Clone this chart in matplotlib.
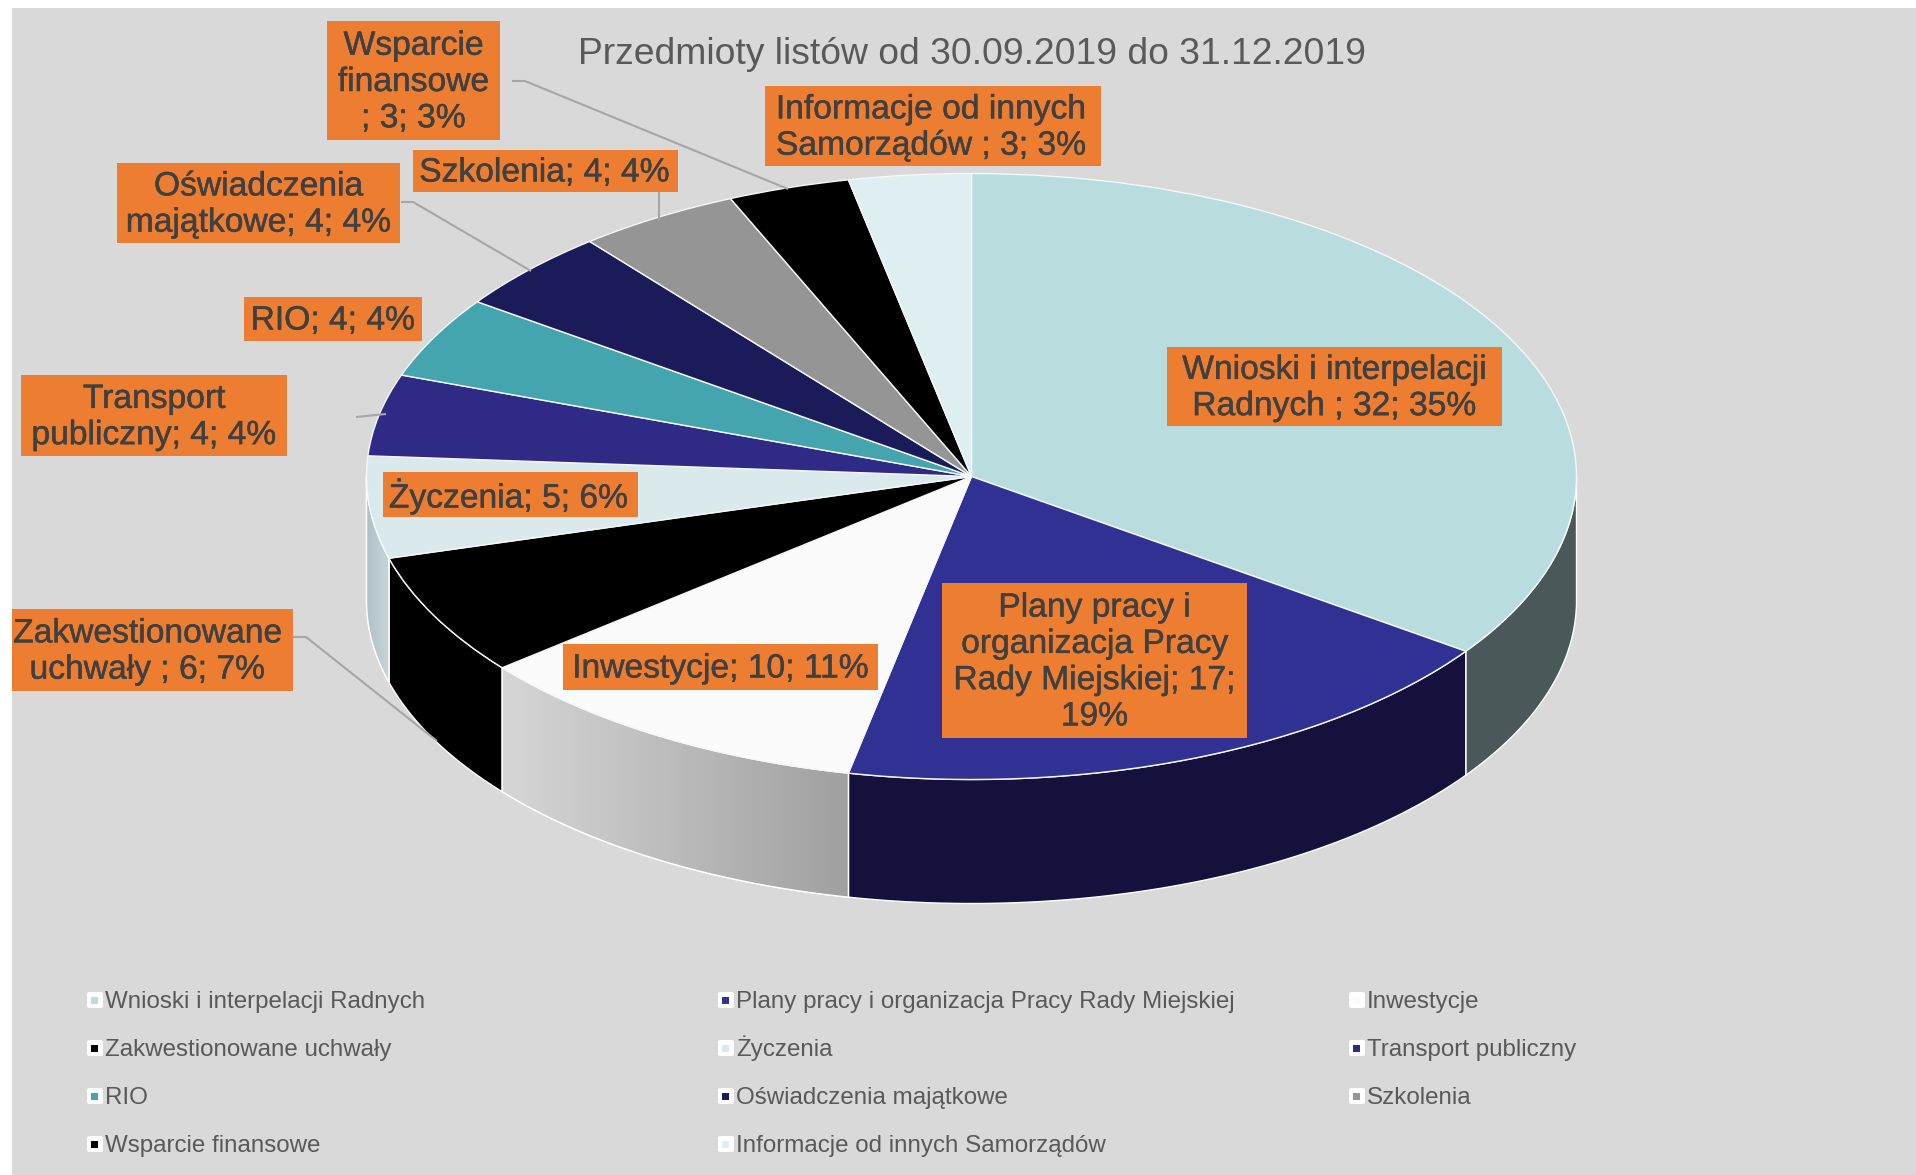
import numpy as np
import matplotlib
matplotlib.use("Agg")
import matplotlib.pyplot as plt
import matplotlib.patheffects as pe
from matplotlib.patches import Rectangle, FancyBboxPatch, Polygon
from matplotlib.transforms import Affine2D
from matplotlib.colors import LinearSegmentedColormap

plt.rcParams['font.family'] = ['Liberation Sans', 'DejaVu Sans']

# ---- data ----
title = "Przedmioty listów od 30.09.2019 do 31.12.2019"
categories = ["Wnioski i interpelacji Radnych",
              "Plany pracy i organizacja Pracy Rady Miejskiej",
              "Inwestycje", "Zakwestionowane uchwały", "Życzenia",
              "Transport publiczny", "RIO", "Oświadczenia majątkowe",
              "Szkolenia", "Wsparcie finansowe",
              "Informacje od innych Samorządów"]
values = [32, 17, 10, 6, 5, 4, 4, 4, 4, 3, 3]
label_texts = ["Wnioski i interpelacji\nRadnych ; 32; 35%",
               "Plany pracy i\norganizacja Pracy\nRady Miejskiej; 17;\n19%",
               "Inwestycje; 10; 11%",
               "Zakwestionowane\nuchwały ; 6; 7%",
               "Życzenia; 5; 6%",
               "Transport\npubliczny; 4; 4%",
               "RIO; 4; 4%",
               "Oświadczenia\nmajątkowe; 4; 4%",
               "Szkolenia; 4; 4%",
               "Wsparcie\nfinansowe\n; 3; 3%",
               "Informacje od innych\nSamorządów ; 3; 3%"]

# ---- styles and layout (pixels of the 1916x1175 canvas) ----
top_colors = ["#B9DDDF", "#313194", "#FBFBFB", "#000000", "#D9E9EC", "#2E2A86",
              "#45A5AE", "#1C1B5A", "#959595", "#000000", "#DFEEF0"]
wall_colors = [("#4A5859", "#4A5859"), ("#14113C", "#14113C"), ("#D6D6D6", "#A0A0A0"),
               ("#000000", "#000000"), ("#AEBFC4", "#C8D6DA")]
CX, CY, RX, RY, DEPTH = 971.5, 476.5, 605, 303, 124
label_boxes = [(1167, 347, 1502, 426), (942, 583, 1247, 738), (563, 644, 878, 690),
               (12, 609, 293, 691), (383, 472, 638, 517), (21, 375, 287, 456),
               (244, 297, 422, 341), (117, 163, 400, 243), (413, 150, 678, 192),
               (327, 21, 500, 140), (765, 86, 1101, 166)]
label_dx = [0, 0, 0, -5, -2, 0, 0, 0, -1, 0, -2]
leaders = [[(512, 81), (525, 81), (788, 189)],
           [(659, 192), (659, 220)],
           [(401, 202), (413, 202), (531, 271)],
           [(356, 417), (386, 414)],
           [(293, 637), (306, 637), (437, 741)]]
legend_x = [87, 718, 1349]
legend_y = [1000, 1048, 1096, 1144]

fig = plt.figure(figsize=(19.16, 11.75), dpi=100, facecolor="white")
ax = fig.add_axes([0, 0, 1, 1])
ax.set_facecolor("white")
ax.axis("off")

ax.add_patch(Rectangle((12, 8), 1916 - 12, 1175 - 8, fc="#D9D9D9", ec="none", zorder=0))

# top of the pie, drawn by ax.pie and squashed into an ellipse
squash = Affine2D().scale(RX, -RY).translate(CX, CY)
wedges, _ = ax.pie(values, colors=top_colors, startangle=90, counterclock=False, radius=1,
                   wedgeprops=dict(edgecolor="#F4F8F8", linewidth=1.0))
for w in wedges:
    w.set_transform(squash + ax.transData)
    w.set_zorder(3)

# side wall: only the front half (90..270 degrees clockwise from the top) is visible
edges = np.cumsum([0] + values) / sum(values) * 360.0
for i, (c0, c1) in enumerate(wall_colors):
    t0, t1 = max(edges[i], 90), min(edges[i + 1], 270)
    if t1 <= t0:
        continue
    t = np.radians(np.linspace(t0, t1, 120))
    x = CX + RX * np.sin(t)
    y = CY - RY * np.cos(t)
    pts = np.r_[np.c_[x, y], np.c_[x, y + DEPTH][::-1]]
    poly = Polygon(pts, closed=True, fc=c0, ec="white", lw=1.0, zorder=2)
    ax.add_patch(poly)
    if c0 != c1:
        # the gradient runs from the left end of the wall to its right end
        cmap = LinearSegmentedColormap.from_list("w", [c0, c1])
        im = ax.imshow(np.linspace(0, 1, 256).reshape(1, -1), cmap=cmap, aspect="auto",
                       extent=(x.min(), x.max(), y.max() + DEPTH, y.min()), zorder=2.1)
        clip = Polygon(pts, closed=True, transform=ax.transData)
        im.set_clip_path(clip)
        ax.add_patch(Polygon(pts, closed=True, fc="none", ec="white", lw=1.0, zorder=2.2))

ax.set_aspect("auto")
ax.set_xlim(0, 1916)
ax.set_ylim(1175, 0)

# leader lines
for pts in leaders:
    xs, ys = zip(*pts)
    ax.plot(xs, ys, color="#A6A6A6", lw=1.5, zorder=4, solid_capstyle="butt")

# data labels
heavy = [pe.withStroke(linewidth=0.35, foreground="#404040")]
for txt, (x0, y0, x1, y1), dx in zip(label_texts, label_boxes, label_dx):
    ax.add_patch(Rectangle((x0, y0), x1 - x0, y1 - y0, fc="#ED7D31", ec="none", zorder=5))
    ax.text((x0 + x1) / 2 + dx, (y0 + y1) / 2 + 2, txt, ha="center", va="center", fontsize=24.2,
            color="#404040", linespacing=1.22, zorder=6, path_effects=heavy)

ax.text(CX, 54, title, ha="center", va="center", fontsize=26.8, color="#595959", zorder=6)

# legend, filled row by row
for i, (name, col) in enumerate(zip(categories, top_colors)):
    lx, ly = legend_x[i % 3], legend_y[i // 3]
    ax.add_patch(FancyBboxPatch((lx + 2, ly - 6), 12, 12, boxstyle="round,pad=2",
                                fc="white", ec="none", zorder=5))
    ax.add_patch(Rectangle((lx + 4.5, ly - 3.5), 7, 7, fc=col, ec="none", zorder=6))
    ax.text(lx + 18, ly + 8, name, ha="left", va="baseline", fontsize=17.4, color="#595959", zorder=6)

fig.savefig("out.png", dpi=100)
